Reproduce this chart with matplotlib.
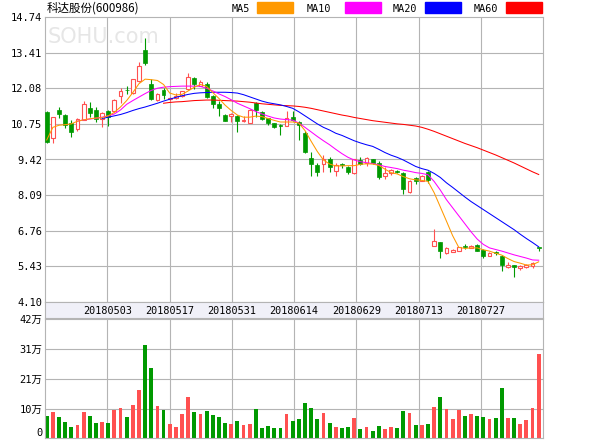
import numpy as np
import matplotlib
matplotlib.use("Agg")
import matplotlib.pyplot as plt
from matplotlib.patches import Rectangle

# daily OHLC (yuan), 81 trading days
opens = [11.20, 10.21, 11.27, 11.08, 10.77, 10.55, 10.90, 11.33, 11.27, 10.92,
         11.22, 11.24, 11.79, 12.03, 11.89, 12.35, 13.51, 12.23, 11.64, 12.00,
         11.67, 11.70, 11.80, 12.04, 12.45, 12.18, 12.24, 11.79, 11.49, 11.08,
         11.06, 11.04, 10.84, 10.80, 11.54, 11.21, 10.96, 10.77, 10.69, 10.68,
         11.02, 10.82, 10.40, 9.46, 9.22, 9.25, 9.44, 8.99, 9.22, 9.15,
         8.90, 9.40, 9.29, 9.43, 9.29, 8.80, 8.90, 8.99, 8.90, 8.20,
         8.72, 8.63, 8.96, 6.19, 6.33, 5.92, 5.97, 6.02, 6.17, 6.13,
         6.23, 6.04, 5.82, 5.94, 5.82, 5.40, 5.49, 5.37, 5.40, 5.43,
         6.13]
closes = [10.07, 11.00, 11.11, 10.71, 10.46, 10.94, 11.49, 11.15, 10.92, 11.14,
          11.00, 11.64, 11.98, 12.00, 12.41, 12.91, 13.01, 11.68, 11.88, 11.82,
          11.72, 11.80, 11.97, 12.49, 12.22, 12.30, 11.77, 11.50, 11.36, 10.86,
          11.13, 10.87, 10.90, 11.27, 11.27, 10.92, 10.77, 10.65, 10.67, 10.96,
          10.90, 10.72, 9.71, 9.27, 8.97, 9.44, 9.15, 9.22, 9.21, 8.94,
          9.43, 9.25, 9.49, 9.29, 8.76, 8.92, 9.03, 8.95, 8.32, 8.62,
          8.60, 8.80, 8.66, 6.38, 6.02, 6.10, 6.04, 6.14, 6.16, 6.19,
          6.02, 5.82, 5.94, 5.93, 5.49, 5.49, 5.39, 5.45, 5.49, 5.57,
          6.13]
highs = [11.22, 11.02, 11.37, 11.10, 10.90, 10.97, 11.59, 11.58, 11.39, 11.21,
         11.25, 11.66, 12.08, 12.18, 12.43, 13.07, 13.97, 12.41, 11.90, 12.08,
         11.76, 11.90, 11.99, 12.64, 12.50, 12.38, 12.30, 11.81, 11.62, 11.12,
         11.16, 11.08, 11.04, 11.29, 11.56, 11.23, 10.98, 10.80, 10.76, 11.24,
         11.22, 10.85, 10.50, 9.70, 9.28, 9.58, 9.52, 9.30, 9.30, 9.18,
         9.45, 9.52, 9.51, 9.45, 9.35, 9.15, 9.05, 9.02, 8.95, 8.64,
         8.76, 8.85, 9.00, 6.82, 6.35, 6.14, 6.06, 6.16, 6.25, 6.21,
         6.25, 6.06, 5.97, 6.00, 5.84, 5.60, 5.50, 5.47, 5.51, 5.61,
         6.13]
lows = [10.02, 10.03, 10.98, 10.58, 10.27, 10.50, 10.88, 11.02, 10.83, 10.65,
        10.67, 11.20, 11.52, 11.85, 11.87, 12.33, 12.95, 11.64, 11.62, 11.68,
        11.62, 11.66, 11.77, 12.02, 12.05, 12.16, 11.70, 11.33, 11.04, 10.84,
        10.83, 10.46, 10.82, 10.78, 11.00, 10.90, 10.70, 10.58, 10.34, 10.66,
        10.86, 10.15, 9.66, 8.82, 8.80, 8.97, 8.97, 8.80, 9.12, 8.88,
        8.86, 9.20, 9.18, 9.25, 8.70, 8.68, 8.85, 8.92, 8.12, 8.18,
        8.49, 8.60, 8.53, 6.19, 5.76, 5.90, 5.95, 6.00, 6.08, 6.11,
        6.00, 5.76, 5.80, 5.86, 5.27, 5.38, 5.02, 5.30, 5.38, 5.38,
        6.02]
# volume in 万 shares
volumes = [7.9, 9.3, 7.5, 5.8, 4.0, 4.7, 9.3, 7.9, 5.4, 5.8,
           5.4, 10.1, 10.7, 7.5, 11.8, 17.0, 33.0, 24.8, 11.4, 10.0,
           5.0, 4.0, 8.6, 14.6, 9.3, 8.6, 9.6, 8.2, 7.5, 5.4,
           5.0, 6.1, 4.7, 5.0, 10.3, 3.6, 4.3, 3.6, 3.6, 8.6,
           6.1, 6.8, 12.5, 10.7, 6.8, 8.9, 5.4, 4.0, 3.6, 4.0,
           7.2, 3.2, 4.0, 2.6, 4.3, 3.2, 4.0, 3.6, 9.6, 8.9,
           4.7, 4.7, 5.0, 11.0, 14.6, 10.3, 6.8, 10.0, 7.9, 8.6,
           7.9, 7.5, 6.8, 7.2, 17.8, 7.2, 7.2, 5.0, 6.4, 10.7,
           29.8]

nan = np.nan
ma5 = [10.15, 10.62, 10.70, 10.72, 10.75, 10.85, 10.90, 10.94, 10.97, 10.98,
       11.05, 11.18, 11.38, 11.62, 11.92, 12.25, 12.42, 12.40, 12.37, 12.22,
       11.90, 11.83, 11.85, 11.98, 12.12, 12.22, 12.15, 11.92, 11.70, 11.45,
       11.25, 11.08, 11.00, 11.00, 11.04, 11.02, 10.95, 10.88, 10.82, 10.82,
       10.82, 10.78, 10.50, 10.10, 9.72, 9.40, 9.25, 9.18, 9.18, 9.19,
       9.19, 9.24, 9.26, 9.25, 9.20, 9.06, 8.93, 8.88, 8.78, 8.70,
       8.66, 8.64, 8.60, 8.18, 7.65, 7.12, 6.58, 6.14, 6.10, 6.12,
       6.12, 6.05, 6.00, 5.92, 5.85, 5.72, 5.61, 5.55, 5.48, 5.49,
       5.60]
ma10 = [nan] * 5 + [
    10.85, 10.90, 10.93, 10.96, 11.00,
    11.05, 11.12, 11.27, 11.48, 11.62, 11.75, 11.88, 12.00, 12.08, 12.12,
    12.14, 12.15, 12.16, 12.16, 12.16, 12.15, 12.08, 11.98, 11.87, 11.77,
    11.65, 11.52, 11.42, 11.32, 11.21, 11.12, 11.04, 10.97, 10.93, 10.91,
    10.89, 10.78, 10.62, 10.45, 10.28, 10.12, 9.97, 9.80, 9.64, 9.50,
    9.40, 9.34, 9.30, 9.27, 9.22, 9.16, 9.12, 9.08, 9.02, 8.98,
    8.93, 8.90, 8.85, 8.60, 8.28, 7.92, 7.62, 7.32, 7.02, 6.72,
    6.45, 6.25, 6.12, 6.06, 6.00, 5.93, 5.86, 5.80, 5.74, 5.67,
    5.66]
ma20 = [nan] * 9 + [
    10.95,
    11.00, 11.05, 11.10, 11.17, 11.25, 11.32, 11.38, 11.45, 11.52, 11.60,
    11.67, 11.74, 11.80, 11.85, 11.89, 11.91, 11.92, 11.93, 11.93, 11.93,
    11.92, 11.90, 11.84, 11.76, 11.68, 11.60, 11.54, 11.50, 11.46, 11.40,
    11.33, 11.20, 11.05, 10.90, 10.75, 10.62, 10.52, 10.40, 10.32, 10.22,
    10.12, 10.04, 9.97, 9.91, 9.80, 9.68, 9.58, 9.50, 9.40, 9.28,
    9.16, 9.08, 9.02, 8.90, 8.75, 8.55, 8.38, 8.20, 8.02, 7.85,
    7.70, 7.55, 7.40, 7.25, 7.10, 6.95, 6.80, 6.63, 6.47, 6.32,
    6.16]
ma60 = [nan] * 19 + [
    11.52,
    11.55, 11.57, 11.58, 11.60, 11.62, 11.63, 11.64, 11.64, 11.63, 11.62,
    11.61, 11.60, 11.58, 11.56, 11.53, 11.50, 11.48, 11.46, 11.44, 11.43,
    11.42, 11.40, 11.37, 11.33, 11.28, 11.23, 11.18, 11.13, 11.08, 11.04,
    10.99, 10.95, 10.91, 10.87, 10.84, 10.81, 10.78, 10.75, 10.73, 10.70,
    10.67, 10.62, 10.55, 10.47, 10.38, 10.29, 10.20, 10.11, 10.02, 9.94,
    9.86, 9.77, 9.68, 9.59, 9.49, 9.39, 9.29, 9.18, 9.07, 8.96,
    8.86]

date_labels = ["20180503", "20180517", "20180531", "20180614",
               "20180629", "20180713", "20180727"]
price_ticks = [4.10, 5.43, 6.76, 8.09, 9.42, 10.75, 12.08, 13.41, 14.74]
vol_ticks = [0, 10.5, 21, 31.5, 42]
vol_labels = ["0", "10万", "21万", "31万", "42万"]

RED = "#ff5050"
GREEN = "#009900"
GRID = "#b4b4b4"
ma_colors = {"MA5": "#ff9900", "MA10": "#ff00ff", "MA20": "#0000ff", "MA60": "#ff0000"}
mono = ["DejaVu Sans Mono", "Noto Sans CJK SC"]

o = np.array(opens); c = np.array(closes)
h = np.array(highs); l = np.array(lows)
x = np.arange(len(o))
up = c > o
down = ~up
vol_up = c >= o

W, H = 600, 440
def box(left, top, right, bottom):
    return [left / W, 1 - bottom / H, (right - left) / W, (bottom - top) / H]

fig = plt.figure(figsize=(6, 4.4), dpi=100)
ax = fig.add_axes(box(45, 17, 543, 302))
axd = fig.add_axes(box(45, 302, 543, 318))
axv = fig.add_axes(box(45, 319.3, 543, 438.3))

x0, x1 = -0.28, 80.7
cols = [x0 + k * (x1 - x0) / 8 for k in range(1, 8)]

for a in (ax, axd, axv):
    a.set_xlim(x0, x1)
    a.set_xticks([])
    for s in a.spines.values():
        s.set_color(GRID)
        s.set_linewidth(0.8)

# price panel
ax.set_ylim(price_ticks[0], price_ticks[-1])
ax.set_yticks(price_ticks)
ax.set_yticklabels(["%.2f" % t for t in price_ticks], family=mono, fontsize=7.5)
ax.tick_params(axis="y", length=0, pad=2)
for t in price_ticks[1:-1]:
    ax.axhline(t, color=GRID, lw=0.8, zorder=0)
for cx in cols:
    ax.axvline(cx, color=GRID, lw=0.8, zorder=0)

w = 0.62
ax.vlines(x, l, h, color=[RED if u else GREEN for u in up], lw=0.8, zorder=2)
body = np.maximum(np.abs(c - o), 0.025)
ax.bar(x[down], body[down], bottom=np.minimum(o, c)[down], width=w,
       color=GREEN, edgecolor=GREEN, lw=0.5, zorder=3)
ax.bar(x[up], body[up], bottom=np.minimum(o, c)[up], width=w,
       facecolor="white", edgecolor=RED, lw=0.8, zorder=3)

for name, vals in (("MA60", ma60), ("MA20", ma20), ("MA10", ma10), ("MA5", ma5)):
    ax.plot(x, vals, color=ma_colors[name], lw=0.75, zorder=4)

ax.text(0.006, 0.93, "SOHU.com", transform=ax.transAxes, fontsize=15,
        color="#e6e6e6", va="center", zorder=1)

# date strip
axd.set_facecolor("#f0f0f8")
axd.set_yticks([])
for cx, lab in zip(cols, date_labels):
    axd.text(cx, 0.45, lab, ha="center", va="center", family=mono, fontsize=7.3)

# volume panel
axv.set_ylim(0, 42)
axv.set_yticks(vol_ticks)
axv.set_yticklabels(vol_labels, family=mono, fontsize=7.5)
axv.get_yticklabels()[0].set_verticalalignment("bottom")
axv.tick_params(axis="y", length=0, pad=2)
for t in vol_ticks[1:-1]:
    axv.axhline(t, color=GRID, lw=0.8, zorder=0)
for cx in cols:
    axv.axvline(cx, color=GRID, lw=0.8, zorder=0)
axv.bar(x, volumes, width=w, color=[RED if u else GREEN for u in vol_up], zorder=2)

# header: name and MA legend
fig.text(47 / W, 1 - 8.5 / H, "科达股份(600986)", va="center",
         family=["Noto Sans CJK SC", "DejaVu Sans"], fontsize=8.3)
legend_pos = [("MA5", 232, 257), ("MA10", 307, 345), ("MA20", 393, 425), ("MA60", 474, 506)]
for name, tx, rx in legend_pos:
    fig.text(tx / W, 1 - 8.5 / H, name, va="center", family=mono, fontsize=7.3)
    fig.patches.append(Rectangle((rx / W, 1 - 13.5 / H), 36 / W, 11 / H,
                                 transform=fig.transFigure, color=ma_colors[name]))

fig.savefig("out.png", dpi=100)
